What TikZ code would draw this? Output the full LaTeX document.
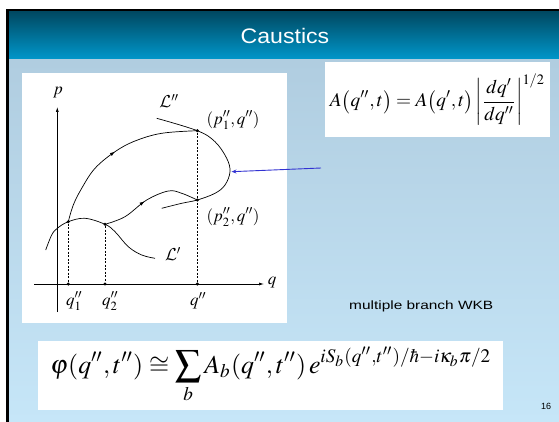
\documentclass[tikz,border=0pt]{standalone}
\usepackage{mathptmx}
\usepackage[no-math]{fontspec}
\newfontfamily\arial{Liberation Sans}
\DeclareMathAlphabet{\mathcm}{OMS}{cmsy}{m}{n}
\usetikzlibrary{arrows.meta,decorations.markings}
\definecolor{titletop}{RGB}{0,70,94}
\definecolor{titlebot}{RGB}{0,152,204}
\definecolor{conttop}{RGB}{176,205,224}
\definecolor{contbot}{RGB}{198,230,248}
\definecolor{arrowblue}{RGB}{50,50,210}
\tikzset{
  curve/.style={line width=0.7pt, black},
  axis/.style={line width=0.7pt, -{Latex[length=5pt,width=3pt]}},
  dashline/.style={dashed, dash pattern=on 2pt off 1.5pt, line width=0.5pt},
  dotpt/.style={circle, fill=black, inner sep=0pt, minimum size=3.4pt},
  lab/.style={font=\fontsize{17}{19}\selectfont, inner sep=0pt},
  whitebox/.style={fill=white, draw=none},
  midarrow/.style={postaction={decorate, decoration={markings, mark=at position #1 with {\arrow{Latex[length=5pt,width=3.5pt]}}}}}
}
\begin{document}
\begin{tikzpicture}[x=1pt, y=-1pt]
\useasboundingbox (0,0) rectangle (559,422);
% frame
\fill[white] (0,0) rectangle (559,422);
\shade[top color=titletop, bottom color=titlebot] (7,10) rectangle (559,60);
\shade[top color=conttop, bottom color=contbot] (7,60) rectangle (559,422);
\fill[black] (6,9) rectangle (559,11);
\fill[black] (6,9) rectangle (8.5,422);
\node[text=white, font=\arial\fontsize{21}{24}\selectfont] (title) at (285,36) {\scalebox{1.1}[1]{Caustics}};
% diagram box
\fill[whitebox] (22,73) rectangle (287,323);
% formula A box
\fill[whitebox] (325,62) rectangle (550,137);
\node (fa) at (437.5,99.5) {\resizebox{215pt}{!}{$\displaystyle A\bigl(q^{\prime\prime},t\bigr)=A\bigl(q^{\prime},t\bigr)\left|\frac{dq^{\prime}}{dq^{\prime\prime}}\right|^{1/2}$}};
% phi box
\fill[whitebox] (38,341) rectangle (503,410);
\node (fphi) at (271,375) {\resizebox{441pt}{!}{$\displaystyle \varphi(q^{\prime\prime},t^{\prime\prime})\cong\sum_{b}A_b(q^{\prime\prime},t^{\prime\prime})\,e^{iS_b(q^{\prime\prime},t^{\prime\prime})/\hbar-i\kappa_b\pi/2}$}};
% text
\node[font=\arial\fontsize{12}{14}\selectfont, anchor=west, inner sep=0pt] (wkb) at (349,306) {\resizebox{144pt}{\height}{multiple branch WKB}};
\node[font=\arial\fontsize{9}{10}\selectfont, inner sep=0pt] (pg) at (546,406) {16};
% axes
\coordinate (pbot) at (57.3,312);
\coordinate (ptop) at (57.3,107);
\coordinate (qleft) at (34,284);
\coordinate (qright) at (264,284);
\draw[axis] (pbot) -- (ptop);
\draw[axis] (qleft) -- (qright);
\node[lab] (plab) at (58,93) {$p$};
\node[lab] (qlab) at (272,283) {$q$};
% points
\node[dotpt] (a1) at (68.3,221.7) {};
\node[dotpt] (a2) at (105,224.3) {};
\node[dotpt] (b1) at (197.3,130.7) {};
\node[dotpt] (b2) at (197.3,200) {};
\node[dotpt] (x1) at (68.3,284) {};
\node[dotpt] (x2) at (105,284) {};
\node[dotpt] (x3) at (197.3,284) {};
\draw[dashline] (a1) -- (x1);
\draw[dashline] (a2) -- (x2);
\draw[dashline] (b1) -- (x3);
% curves
\draw[curve] plot[smooth, tension=0.6] coordinates {(45.7,250) (51.7,235) (57.3,228.3) (68.3,221.7) (85,218.3) (105,224.3) (115,231.7) (128.3,246.7) (141.7,255) (155,258.3)};
\draw[curve, midarrow=0.5] plot[smooth, tension=0.6] coordinates {(68.3,221.7) (73.3,205) (81.7,188.3) (95,168.3) (115,151.7) (135,141) (161.7,133.3) (197.3,130.7)};
\draw[curve, midarrow=0.45] plot[smooth, tension=0.6] coordinates {(105,224.3) (125,216.7) (146.7,200) (168.3,191) (181.7,193.3) (197.3,200)};
\draw[curve] plot[smooth, tension=0.6] coordinates {(156.7,118.3) (197.3,130.7) (215,141.7) (226.7,158.3) (230,171.7) (225,185) (215,193.3) (197.3,200) (181.7,203.3) (161.7,208.3)};
\coordinate (caus) at (231.5,171.7);
\coordinate (arrstart) at (321,168);
\draw[arrowblue, line width=0.9pt, -{Stealth[length=5pt,width=4pt]}] (arrstart) -- (caus);
% labels
\node[lab] (Lpp) at (169,101) {$\mathcm{L}^{\prime\prime}$};
\node[lab] (Lp) at (173,254) {$\mathcm{L}^{\prime}$};
\node[lab] (P1) at (233,120) {$(p_1^{\prime\prime},q^{\prime\prime})$};
\node[lab] (P2) at (233,217) {$(p_2^{\prime\prime},q^{\prime\prime})$};
\node[lab] (q1) at (74,301) {$q_1^{\prime\prime}$};
\node[lab] (q2) at (110,301) {$q_2^{\prime\prime}$};
\node[lab] (q3) at (198,301) {$q^{\prime\prime}$};
\end{tikzpicture}
\end{document}
